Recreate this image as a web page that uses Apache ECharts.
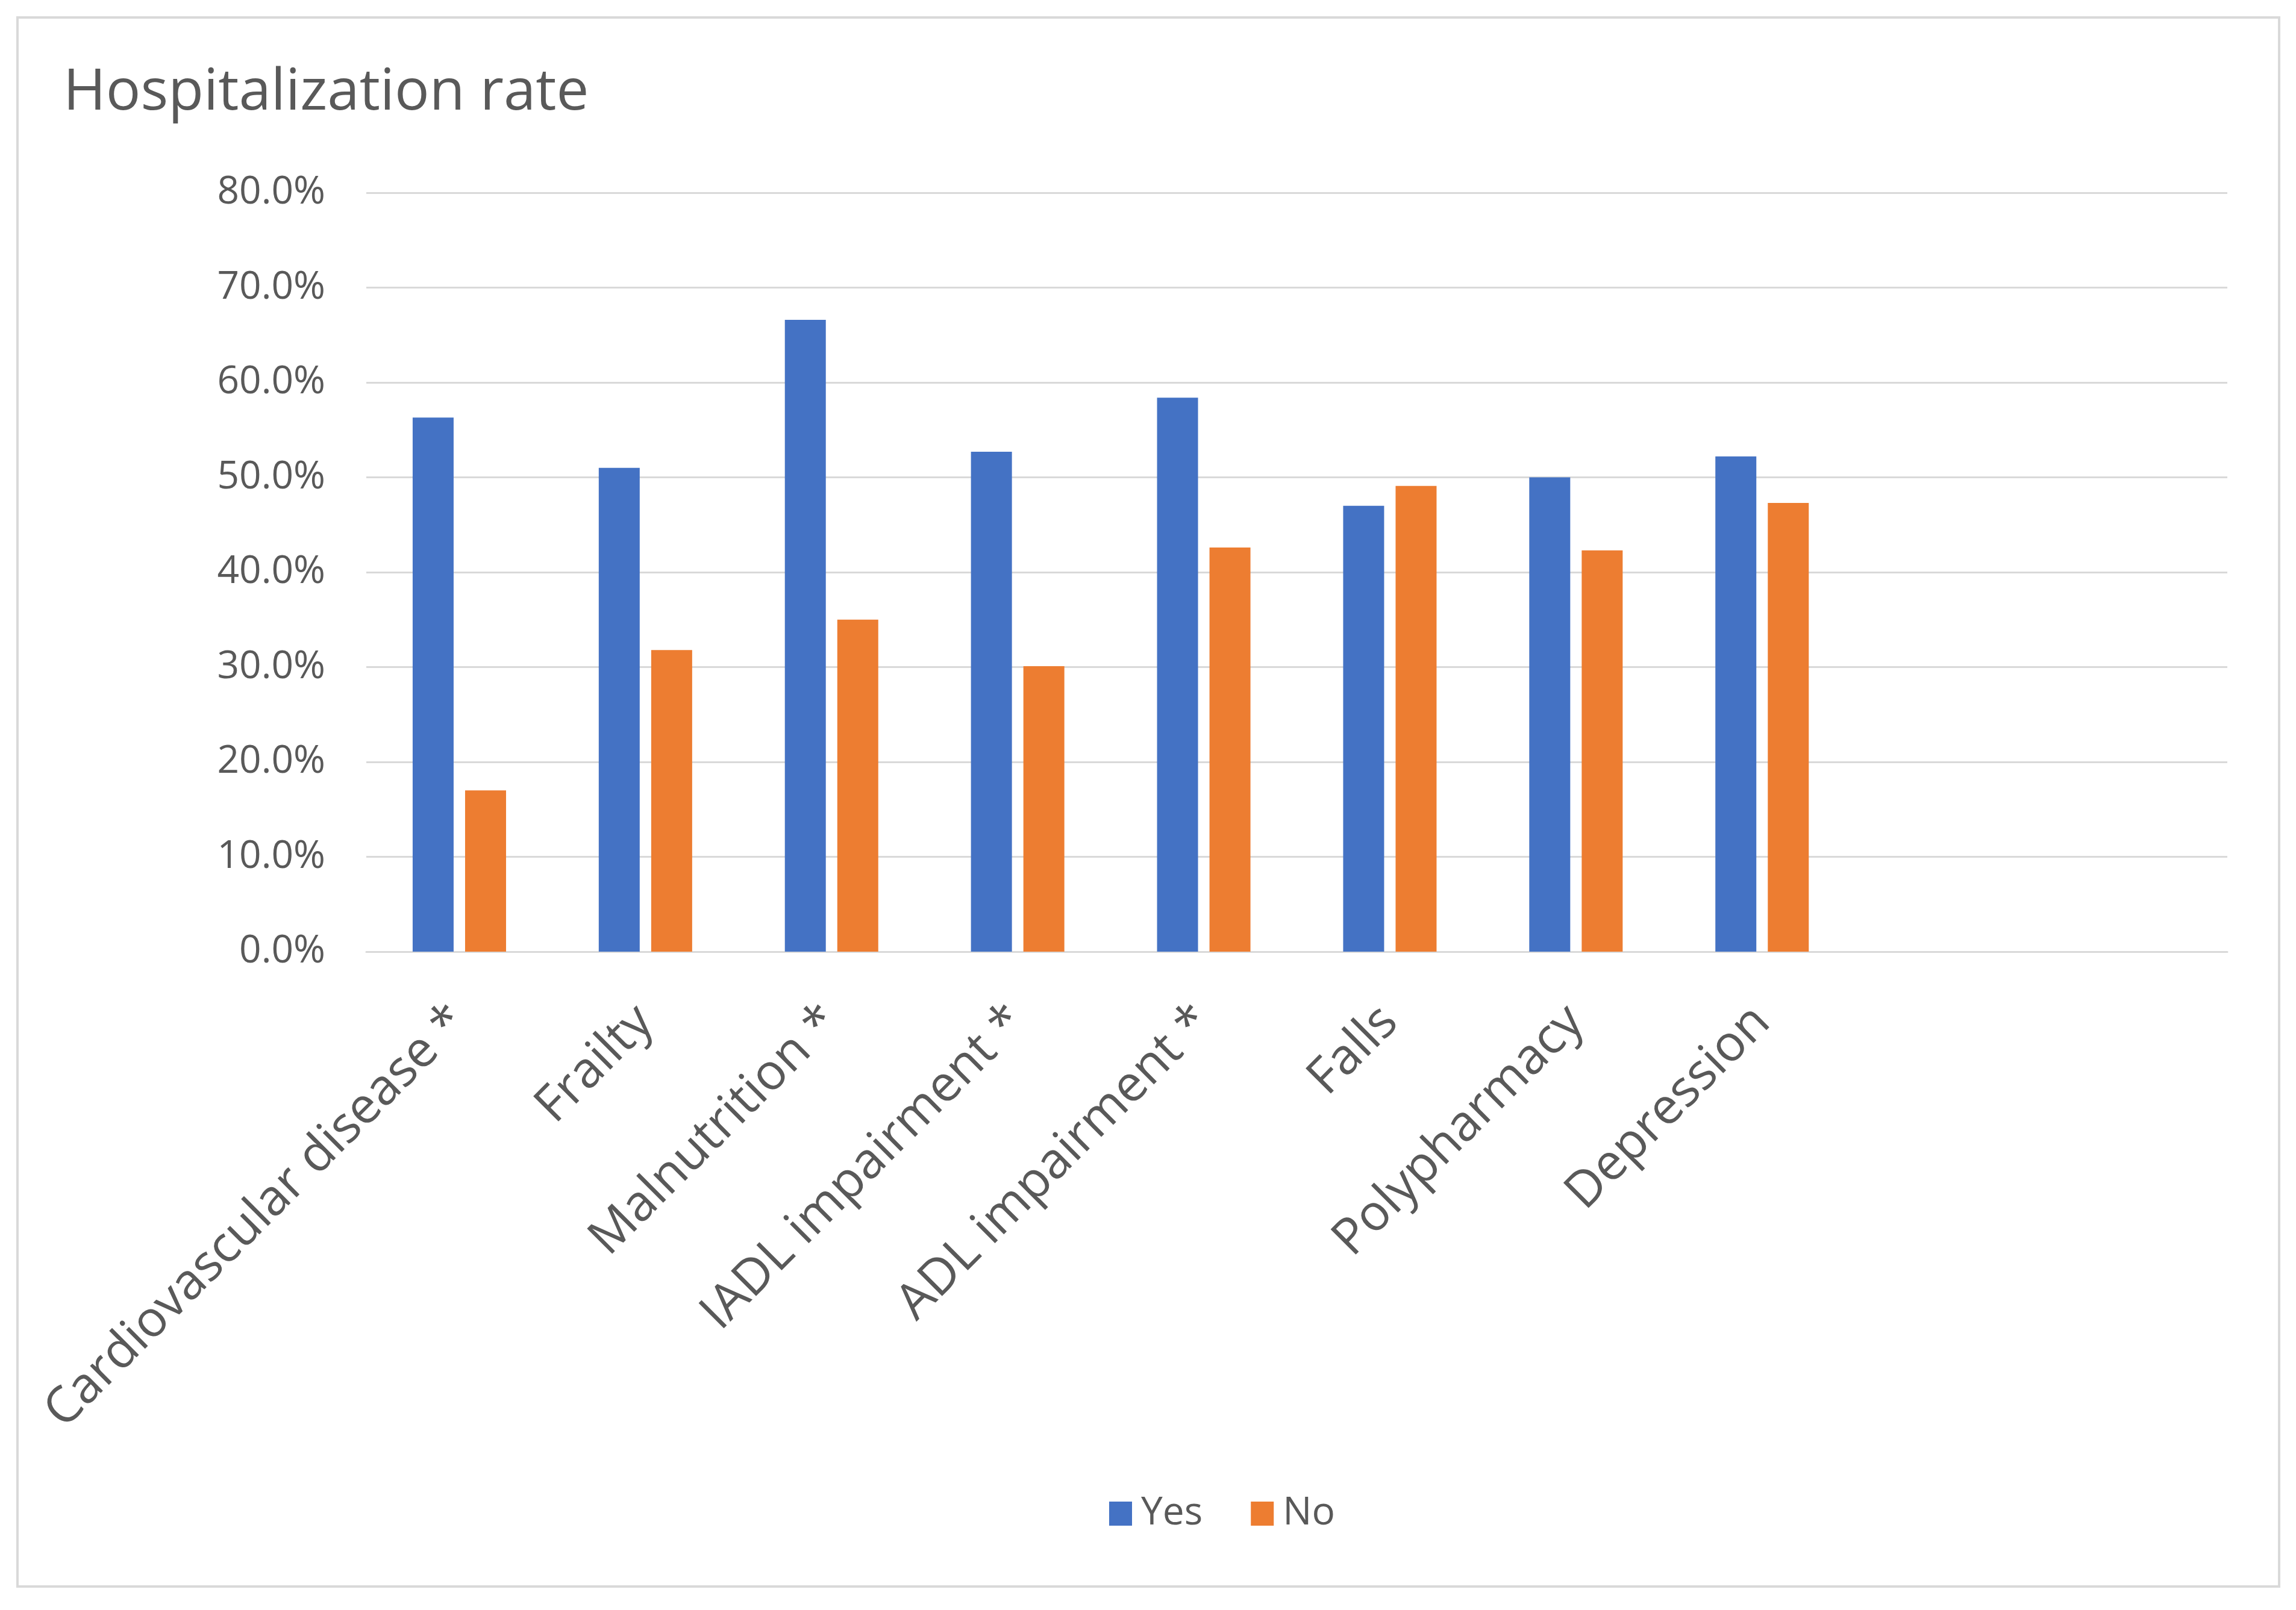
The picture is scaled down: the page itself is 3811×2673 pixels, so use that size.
<!DOCTYPE html>
<html>
<head>
<meta charset="utf-8">
<script src="https://cdn.jsdelivr.net/npm/echarts@6/dist/echarts.min.js"></script>
<style>
html,body{margin:0;padding:0;background:#fff;}
#chart{width:3811px;height:2673px;}
</style>
</head>
<body>
<div id="chart"></div>
<script>
const categories = ['Cardiovascular disease *','Frailty','Malnutrition *','IADL impairment *','ADL impairment *','Falls','Polypharmacy','Depression','',''];
const yesValues = [56.3, 51.0, 66.6, 52.7, 58.4, 47.0, 50.0, 52.2, null, null];
const noValues  = [17.0, 31.8, 35.0, 30.1, 42.6, 49.1, 42.3, 47.3, null, null];
const seriesNames = ['Yes','No'];
const titleText = 'Hospitalization rate';

const FONT = '"Open Sans", "Noto Sans", sans-serif';
const TXT = '#595959';
const chart = echarts.init(document.getElementById('chart'), null, {renderer:'canvas'});
chart.setOption({
  backgroundColor:'#fff',
  animation:false,
  title:{text:titleText,left:100,top:102,textStyle:{fontFamily:FONT,fontSize:96,fontWeight:'normal',color:TXT}},
  graphic:[{type:'rect',shape:{x:29,y:29,width:3754,height:2605},style:{fill:'none',stroke:'#d9d9d9',lineWidth:4},silent:true}],
  legend:{
    data:seriesNames,left:1836,top:2476,itemWidth:38,itemHeight:40,itemGap:80,
    icon:'rect',
    textStyle:{fontFamily:FONT,fontSize:64,color:TXT,padding:[0,0,0,10]}
  },
  grid:{left:608,right:114,top:320,bottom:1093,containLabel:false},
  xAxis:{
    type:'category',data:categories,
    axisTick:{show:false},
    axisLine:{lineStyle:{color:'#d9d9d9',width:3}},
    axisLabel:{rotate:45,interval:0,margin:104,fontFamily:FONT,fontSize:83,color:TXT}
  },
  yAxis:{
    type:'value',min:0,max:80,interval:10,
    axisLine:{show:false},axisTick:{show:false},
    splitLine:{lineStyle:{color:'#d9d9d9',width:3}},
    axisLabel:{margin:68,fontFamily:FONT,fontSize:64,color:TXT,formatter:v=>v.toFixed(1)+'%'}
  },
  series:[
    {name:seriesNames[0],type:'bar',data:yesValues,barWidth:68,barGap:'28%',itemStyle:{color:'#4472C4'}},
    {name:seriesNames[1],type:'bar',data:noValues,barWidth:68,barGap:'28%',itemStyle:{color:'#ED7D31'}}
  ]
});
</script>
</body>
</html>
